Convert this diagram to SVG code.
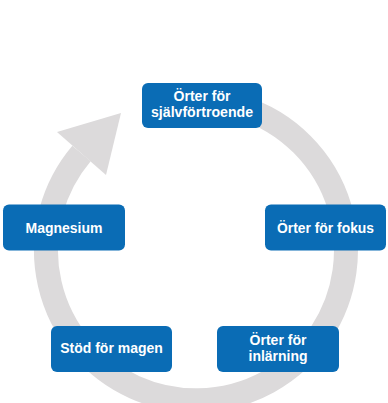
<svg xmlns="http://www.w3.org/2000/svg" width="388" height="403" viewBox="0 0 388 403">
<style>
.box{fill:#0a6cb5}
.lbl{font-family:"Liberation Sans",Arial,sans-serif;font-weight:bold;font-size:15.5px;fill:#ffffff;text-anchor:middle}
.ring{fill:none;stroke:#dcdadb;stroke-width:24}
</style>
<rect width="388" height="403" fill="#ffffff"/>
<g id="connectors">
<path class="ring" d="M175.1,101.8 A150,150 0 1 1 81.5,153.4"/>
<polygon points="121,113 57,132 106,175" fill="#dcdadb"/>
</g>
<g id="node-top">
<rect class="box" x="142" y="83" width="120" height="45" rx="6"/>
<text class="lbl" x="202" y="101" textLength="57" lengthAdjust="spacingAndGlyphs">Örter för</text>
<text class="lbl" x="202" y="117" textLength="102" lengthAdjust="spacingAndGlyphs">självförtroende</text>
</g>
<g id="node-magnesium">
<rect class="box" x="3" y="204.5" width="122" height="46" rx="6"/>
<text class="lbl" x="64" y="233" textLength="77" lengthAdjust="spacingAndGlyphs">Magnesium</text>
</g>
<g id="node-fokus">
<rect class="box" x="265" y="204.5" width="121" height="46" rx="6"/>
<text class="lbl" x="325.5" y="233" textLength="97" lengthAdjust="spacingAndGlyphs">Örter för fokus</text>
</g>
<g id="node-magen">
<rect class="box" x="51" y="326" width="121" height="46" rx="6"/>
<text class="lbl" x="111.5" y="353" textLength="102.5" lengthAdjust="spacingAndGlyphs">Stöd för magen</text>
</g>
<g id="node-inlarning">
<rect class="box" x="217" y="326" width="122" height="46" rx="6"/>
<text class="lbl" x="278" y="344.5" textLength="57" lengthAdjust="spacingAndGlyphs">Örter för</text>
<text class="lbl" x="278" y="361" textLength="59" lengthAdjust="spacingAndGlyphs">inlärning</text>
</g>
</svg>
